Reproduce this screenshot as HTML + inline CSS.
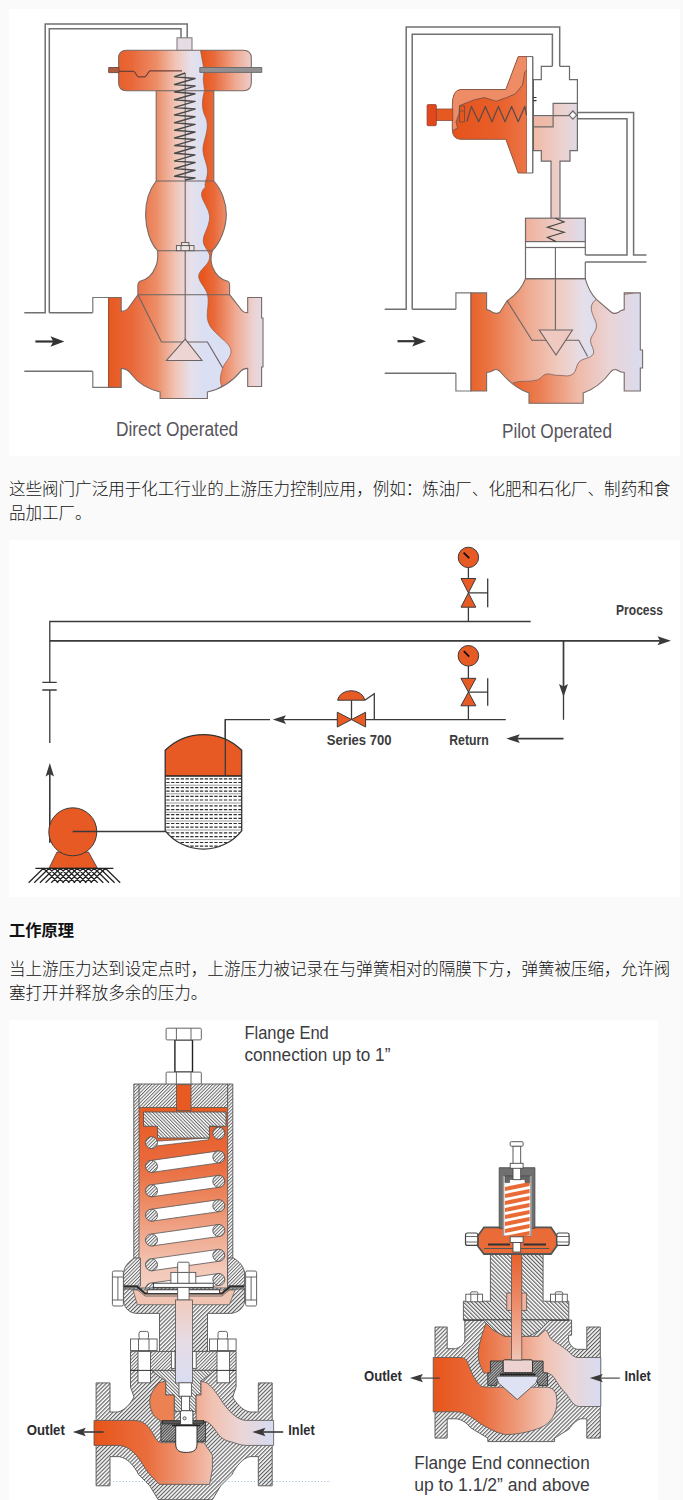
<!DOCTYPE html>
<html lang="zh-CN">
<head>
<meta charset="utf-8">
<title>Series 700</title>
<style>
html,body{margin:0;padding:0;}
body{width:683px;height:1500px;overflow:hidden;background:#fafafa;position:relative;font-family:"Liberation Sans","Noto Sans CJK SC",sans-serif;color:#111;}
.strip{position:absolute;left:680px;top:0;width:3px;height:1500px;background:#f9f9f9;}
.panel{position:absolute;background:#fff;overflow:hidden;}
.panel svg{display:block;position:absolute;left:0;top:0;}
#p1{left:9px;top:9px;width:671px;height:447px;}
#p2{left:9px;top:540px;width:671px;height:357px;}
#p3{left:9px;top:1020px;width:649px;height:480px;}
p,h3{position:absolute;margin:0;left:9px;width:672px;font-size:16.54px;line-height:24px;font-weight:300;white-space:nowrap;}
#t1{top:478px;}
#h{top:918px;font-weight:700;font-size:16.3px;}
#t2{top:958px;}
svg text{font-family:"Liberation Sans",sans-serif;}
</style>
</head>
<body>
<div class="strip"></div>
<div class="panel" id="p1">
<svg width="671" height="447" viewBox="9 9 671 447">
<defs>
<linearGradient id="gL" gradientUnits="userSpaceOnUse" x1="108" y1="0" x2="204" y2="0">
<stop offset="0" stop-color="#e7591f"/><stop offset="0.25" stop-color="#e9683a"/><stop offset="0.5" stop-color="#ec8c66"/><stop offset="0.7" stop-color="#f1c4b4"/><stop offset="0.86" stop-color="#e6e0ea"/><stop offset="1" stop-color="#dadff3"/>
</linearGradient>
<linearGradient id="gR" gradientUnits="userSpaceOnUse" x1="202" y1="0" x2="263" y2="0">
<stop offset="0" stop-color="#e7561b"/><stop offset="0.2" stop-color="#e96a3a"/><stop offset="0.55" stop-color="#efaa92"/><stop offset="0.85" stop-color="#ecd3d3"/><stop offset="1" stop-color="#e3dbe8"/>
</linearGradient>
<clipPath id="cA"><path id="silA" d="M126.6 50.3H243.3Q251.3 50.3 251.3 58.3V82.7Q251.3 90.7 243.3 90.7H213.8V181C222 190 226.3 203 226.3 214.5C226.3 228 220 243 212.4 250.7C210.5 257 210.5 262 212.5 267C216 276 222 280 227.7 281.3Q229.6 282 229.6 285V294.7L240.8 309Q243 312.8 247.7 312.8V297.5H261.6V318H263V367H261.6V386.5H247.7V368.4Q243 368.6 240.8 371.2C232 382 222 389 207.4 392V398.5H160.1V392C148 389 138 383 132 375Q128 368.6 121.2 368.4V387.4H108.6V297.5H121.2V311.4Q125.5 311.2 128 308.5L137.9 294.7V285Q138 282 140 281.3C146 280 152 276 155.5 267C158 262 158 257 157.6 250.7C150 243 145.6 228 145.6 214.5C145.6 203 149 190 156.2 181V90.7H126.6Q118.6 90.7 118.6 82.7V58.3Q118.6 50.3 126.6 50.3Z"/></clipPath>
<linearGradient id="hL" gradientUnits="userSpaceOnUse" x1="471" y1="0" x2="596" y2="0">
<stop offset="0" stop-color="#e8632b"/><stop offset="0.15" stop-color="#ea7544"/><stop offset="0.45" stop-color="#efa98f"/><stop offset="0.7" stop-color="#f0cbbf"/><stop offset="0.9" stop-color="#e4dfea"/><stop offset="1" stop-color="#dcdff1"/>
</linearGradient>
<linearGradient id="hR" gradientUnits="userSpaceOnUse" x1="513" y1="0" x2="641" y2="0">
<stop offset="0" stop-color="#e8622c"/><stop offset="0.22" stop-color="#eb8055"/><stop offset="0.5" stop-color="#efb9a6"/><stop offset="0.75" stop-color="#ead3d6"/><stop offset="1" stop-color="#dadcee"/>
</linearGradient>
<linearGradient id="hP" gradientUnits="userSpaceOnUse" x1="533" y1="0" x2="578" y2="0">
<stop offset="0" stop-color="#f0b8a4"/><stop offset="0.6" stop-color="#ecd0cc"/><stop offset="1" stop-color="#e0dae6"/>
</linearGradient>
<linearGradient id="hB" gradientUnits="userSpaceOnUse" x1="452" y1="0" x2="533" y2="0">
<stop offset="0" stop-color="#e6531c"/><stop offset="0.55" stop-color="#e85e28"/><stop offset="1" stop-color="#ec7a4e"/>
</linearGradient>
<linearGradient id="hQ" gradientUnits="userSpaceOnUse" x1="525" y1="0" x2="586" y2="0">
<stop offset="0" stop-color="#efb09a"/><stop offset="0.6" stop-color="#ecd0cc"/><stop offset="1" stop-color="#dcdcee"/>
</linearGradient>
<clipPath id="cB"><path id="silB" d="M525.5 278.8H585.3C588 288 591 294 596.4 299.3L611 312Q614 314.5 618 312.6Q621 309.8 624.2 309.6V292.9H640.3V350H642.6V368H640.3V391H624.2V372.5Q620 372.3 617 370Q614 368.5 611 371.5C604 381 595 389 583.2 393V403.3H529V393C518 389 508 381 500 371.5Q497 368.5 494 370Q491 372.3 486.6 372.5V391H471.1V292.9H486.6V309.6Q490 309.8 493 312.6Q497 314.5 500 312L507.1 300.8C516 295 522 288 525.5 278.8Z"/></clipPath>
</defs>
<!-- ===== Direct operated ===== -->
<g fill="none" stroke="#707070" stroke-width="1.5">
<!-- sensing tube -->
<path d="M24.3 312.8H45.2V24H187.2V38"/>
<path d="M49.3 312.8V28.8H181V38"/>
<path d="M49.3 312.8H92.8M24.3 371.2H92.8"/>
</g>
<rect x="177" y="37.8" width="15" height="13" fill="#e6dde4" stroke="#777" stroke-width="1"/>
<!-- left flange white part -->
<path d="M92.8 312.8V297.5H108.6V387.4H92.8V371.2" fill="#fff" stroke="#777" stroke-width="1.2"/>
<path d="M126.6 50.3H243.3Q251.3 50.3 251.3 58.3V82.7Q251.3 90.7 243.3 90.7H213.8V181C222 190 226.3 203 226.3 214.5C226.3 228 220 243 212.4 250.7C210.5 257 210.5 262 212.5 267C216 276 222 280 227.7 281.3Q229.6 282 229.6 285V294.7L240.8 309Q243 312.8 247.7 312.8V297.5H261.6V318H263V367H261.6V386.5H247.7V368.4Q243 368.6 240.8 371.2C232 382 222 389 207.4 392V398.5H160.1V392C148 389 138 383 132 375Q128 368.6 121.2 368.4V387.4H108.6V297.5H121.2V311.4Q125.5 311.2 128 308.5L137.9 294.7V285Q138 282 140 281.3C146 280 152 276 155.5 267C158 262 158 257 157.6 250.7C150 243 145.6 228 145.6 214.5C145.6 203 149 190 156.2 181V90.7H126.6Q118.6 90.7 118.6 82.7V58.3Q118.6 50.3 126.6 50.3Z" fill="url(#gL)"/>
<g clip-path="url(#cA)">
<path d="M199.5 45L203.3 66Q204.5 72 203.2 79L204.5 90.7C200.5 105 203 112 206 118C209.5 127 205 137 203.2 146C201.5 155 208 164 207.5 172C207.2 179 204 183 205.4 187C200 192 201 196 204 202C207.5 209 211 214 209 222C207.5 230 202 236 203.5 243C205 249 210.5 252 209.6 258C208.5 266 198 270 198.7 277C199.5 283 206 288 207.5 294.7C209.5 303 206.5 310 207.4 318.4C208.5 326 213 330 217 334C224 341 231.5 345 231 352C230.7 358 224 363 222.5 368.4C221 374 219.5 378 221 384L225 400H270V40Z" fill="url(#gR)" stroke="#9a5a44" stroke-width="0.7"/>
</g>
<path d="M126.6 50.3H243.3Q251.3 50.3 251.3 58.3V82.7Q251.3 90.7 243.3 90.7H213.8V181C222 190 226.3 203 226.3 214.5C226.3 228 220 243 212.4 250.7C210.5 257 210.5 262 212.5 267C216 276 222 280 227.7 281.3Q229.6 282 229.6 285V294.7L240.8 309Q243 312.8 247.7 312.8V297.5H261.6V318H263V367H261.6V386.5H247.7V368.4Q243 368.6 240.8 371.2C232 382 222 389 207.4 392V398.5H160.1V392C148 389 138 383 132 375Q128 368.6 121.2 368.4V387.4H108.6V297.5H121.2V311.4Q125.5 311.2 128 308.5L137.9 294.7V285Q138 282 140 281.3C146 280 152 276 155.5 267C158 262 158 257 157.6 250.7C150 243 145.6 228 145.6 214.5C145.6 203 149 190 156.2 181V90.7H126.6Q118.6 90.7 118.6 82.7V58.3Q118.6 50.3 126.6 50.3Z" fill="none" stroke="#7a6a66" stroke-width="1.1"/>
<!-- left flange divider -->
<path d="M108.6 297.5V387.4" stroke="#b04a20" stroke-width="0.8"/>
<!-- internal lines -->
<g fill="none" stroke="#6b6464" stroke-width="1.1">
<path d="M156.2 90.7H213.8M156.2 181H213.8M157.6 250.7H212.4M137.9 294.7H229.6"/>
<path d="M185.2 73V339.2"/>
<path d="M137.9 294.7L161.5 342H207.4L222.7 367.9"/>
<path d="M185.2 339.2L166.4 360.5H202L185.2 339.2Z" fill="#ecd5d2"/>
</g>
<!-- diaphragm plate -->
<path d="M108.7 67.5H119V72.6H108.7Z" fill="#b05a40" stroke="#6b4a40" stroke-width="0.9"/>
<path d="M119 71.3H133.5C135.5 71.3 136 76.3 138.6 76.8H144.8C147.4 76.3 147.9 71.3 150 70.8H182" fill="none" stroke="#70403a" stroke-width="1.2"/>
<path d="M199.8 67.5H261.8V72.4H199.8Z" fill="#929092" stroke="#666" stroke-width="0.9"/>
<!-- spring -->
<path id="spr" d="M185.2 73.0L174.6 76.8L195.0 78.5L174.6 84.5L195.0 86.1L174.6 92.1L195.0 93.8L174.6 99.8L195.0 101.4L174.6 107.4L195.0 109.1L174.6 115.0L195.0 116.7L174.6 122.7L195.0 124.4L174.6 130.3L195.0 132.0L174.6 138.0L195.0 139.6L174.6 145.6L195.0 147.3L174.6 153.3L195.0 154.9L174.6 160.9L195.0 162.6L174.6 168.5L195.0 170.2L174.6 176.2L195.0 177.9L185.2 180.0" fill="none" stroke="#4a4a4a" stroke-width="1.5" stroke-linejoin="round"/>
<!-- nut -->
<g fill="#f2e6e2" stroke="#555" stroke-width="0.9">
<rect x="176.4" y="245.6" width="17.6" height="5.1"/>
<path d="M181 245.6V250.7M189.4 245.6V250.7" fill="none"/>
<rect x="181.5" y="242.6" width="7.4" height="3"/>
</g>
<!-- arrow -->
<path d="M35.4 341.5H54" stroke="#333" stroke-width="2.2" fill="none"/>
<path d="M64.3 341.5L50.5 336.2L53.3 341.5L50.5 346.8Z" fill="#333"/>
<text x="115.9" y="435.8" font-size="19.4" fill="#58545c" textLength="122.3" lengthAdjust="spacingAndGlyphs">Direct Operated</text>
<!-- ===== Pilot operated ===== -->
<g fill="none" stroke="#707070" stroke-width="1.5">
<!-- left sensing tube -->
<path d="M384.7 309.3H406.2V27H559.7V66.4"/>
<path d="M412.2 309.3V34.2H552.4V66.4"/>
<path d="M412.2 309.3H456M384.7 373.2H456"/>
<!-- right tube -->
<path d="M577.5 112.5H633.6V254.9H646.5"/>
<path d="M577.5 118.8H627V254.9H585.3"/>
<path d="M585.3 262H646.5"/>
</g>
<!-- pilot body -->
<path d="M552.4 66.4H541.3V79.6H533.4V150.7H541.3V161.2H551V218H560V161.2H570V150.7H577.4V79.6H569.5V66.4H559.7" fill="#fff" stroke="none"/>
<path d="M533.4 116.4H553.1V103.3H577.4V150.7H570V161.2H560V218H551V161.2H541.3V150.7H533.4Z" fill="url(#hP)"/>
<rect x="533.4" y="116.4" width="19.7" height="10.4" fill="#eeb4a0" opacity="0.6"/>
<g fill="none" stroke="#6e6a6a" stroke-width="1.2">
<path d="M552.4 66.4H541.3V79.6H533.4V150.7H541.3V161.2H551V218M560 218V161.2H570V150.7H577.4V79.6H569.5V66.4H559.7"/>
<path d="M553.1 116.4V103.3H577.4M525 115.6H569M533.4 126.8H553.1V116"/>
<path d="M572.9 111L576.7 115.1L572.9 119.2L569.1 115.1Z" fill="#fff"/>
</g>
<path d="M530.5 97.5H536.5M530.5 100.6H536.5" stroke="#333" stroke-width="1.2"/>
<!-- bonnet -->
<clipPath id="cBn"><path d="M518.2 56.6H527V173H518.2L505.8 139.3H461Q452.3 139.3 452.3 129V105.6Q452.3 89.5 461 89.5H505.8Z"/></clipPath>
<path d="M518.2 56.6H527V173H518.2L505.8 139.3H461Q452.3 139.3 452.3 129V105.6Q452.3 89.5 461 89.5H505.8Z" fill="url(#hB)"/>
<g clip-path="url(#cBn)">
<path d="M450 132L457.5 128L456 121.7L459 114L459.6 105.6L474.3 99.8L484.5 97.6L496.2 101.2L506.5 97.6L515.3 93.9L522.6 85.1L524.8 72L531.4 66.1L534 50H450Z" fill="#ee8c66" stroke="#7a5248" stroke-width="0.9"/>
</g>
<path d="M518.2 56.6H527V173H518.2L505.8 139.3H461Q452.3 139.3 452.3 129V105.6Q452.3 89.5 461 89.5H505.8Z" fill="none" stroke="#8a5a48" stroke-width="1"/>
<path d="M527 56.6H532.8V173H527Z" fill="#fff" stroke="none"/>
<path d="M527 56.6H532.8M527 173H532.8" stroke="#666" stroke-width="1"/>
<path d="M532.8 56.6V173" stroke="#555" stroke-width="1.2"/>
<!-- knob -->
<rect x="436.3" y="109" width="16.5" height="11.4" fill="#e65a22" stroke="#8a4a38" stroke-width="0.8"/>
<rect x="427.1" y="104.6" width="9.2" height="21.1" rx="1" fill="#e2481c" stroke="#8a4030" stroke-width="0.8"/>
<path d="M459.5 106H464.5V122H459.5ZM459.5 111H464.5" fill="none" stroke="#6b5048" stroke-width="0.9"/>
<path d="M467 121.7L471.4 106.4L478.7 121.7L485.3 106.4L491.9 121.7L498.4 106.4L505 121.7L511.6 106.4L518.2 121.7L524.8 106.4L526.5 115" fill="none" stroke="#5a4a48" stroke-width="1.2" stroke-linejoin="round"/>
<!-- piston -->
<rect x="525.5" y="218.2" width="59.8" height="23.4" fill="url(#hQ)" stroke="#6e6a6a" stroke-width="1.2"/>
<rect x="525.5" y="241.6" width="59.8" height="5.9" fill="#fff" stroke="#6e6a6a" stroke-width="1.2"/>
<path d="M525.5 247.5V279M585.3 247.5V255M585.3 262V279" stroke="#6e6a6a" stroke-width="1.2" fill="none"/>
<path d="M555.5 218.2L564 222L547.5 227.3L564 232.3L547.5 237.3L556 241.6" fill="none" stroke="#444" stroke-width="1.2"/>
<!-- body -->
<path d="M455.9 309.3V292.9H471.1V391H455.9V373.2" fill="#fff" stroke="#777" stroke-width="1.2"/>
<path d="M525.5 278.8H585.3C588 288 591 294 596.4 299.3L611 312Q614 314.5 618 312.6Q621 309.8 624.2 309.6V292.9H640.3V350H642.6V368H640.3V391H624.2V372.5Q620 372.3 617 370Q614 368.5 611 371.5C604 381 595 389 583.2 393V403.3H529V393C518 389 508 381 500 371.5Q497 368.5 494 370Q491 372.3 486.6 372.5V391H471.1V292.9H486.6V309.6Q490 309.8 493 312.6Q497 314.5 500 312L507.1 300.8C516 295 522 288 525.5 278.8Z" fill="url(#hL)"/>
<g clip-path="url(#cB)">
<path d="M596.4 299.3C590 304 591 309 592 312.5C593.5 318 597 322 596.4 327C595.5 333 590 336 590.6 341.8C591 346 594.5 349 593.5 353.5C591 359 582 358 578.8 362.3C576 366 576.5 371 573 374C568 377.5 563 375 558.3 375.4C553 375.5 551 373.5 546.6 374C543 374.5 541 378.5 537.8 379.8C530 382.5 521 380 513 382.8L520 410H650V290Z" fill="url(#hR)" stroke="#8a6a62" stroke-width="0.9"/>
</g>
<path d="M525.5 278.8H585.3C588 288 591 294 596.4 299.3L611 312Q614 314.5 618 312.6Q621 309.8 624.2 309.6V292.9H640.3V350H642.6V368H640.3V391H624.2V372.5Q620 372.3 617 370Q614 368.5 611 371.5C604 381 595 389 583.2 393V403.3H529V393C518 389 508 381 500 371.5Q497 368.5 494 370Q491 372.3 486.6 372.5V391H471.1V292.9H486.6V309.6Q490 309.8 493 312.6Q497 314.5 500 312L507.1 300.8C516 295 522 288 525.5 278.8Z" fill="none" stroke="#7a6a66" stroke-width="1.1"/>
<path d="M471.1 292.9V391" stroke="#b05a38" stroke-width="0.8"/>
<g fill="none" stroke="#6b6464" stroke-width="1.1">
<path d="M525.5 278.8H585.3"/>
<path d="M555.4 247.5V330"/>
<path d="M507.1 300.8L532 340.3H578.8L587.6 356.4"/>
<path d="M539.3 330H572.4L556 355Z" fill="#efc9c0"/>
</g>
<path d="M397.5 341.2H416" stroke="#333" stroke-width="2.2" fill="none"/>
<path d="M426 341.2L412.2 335.9L415 341.2L412.2 346.5Z" fill="#333"/>
<text x="502" y="438.3" font-size="19.4" fill="#58545c" textLength="110" lengthAdjust="spacingAndGlyphs">Pilot Operated</text>
</svg>
</div>
<p id="t1">这些阀门广泛用于化工行业的上游压力控制应用，例如：炼油厂、化肥和石化厂、制药和食<br>品加工厂。</p>
<div class="panel" id="p2">
<svg width="671" height="357" viewBox="9 540 671 357">
<defs>
</defs>
<g fill="none" stroke="#3a3a3a" stroke-width="1.3" stroke-linecap="butt">
<!-- process lines -->
<path d="M49.8 743V690M49.8 682.3V621.5H530.7"/>
<path d="M42.3 682.3H56.7M42.3 690H56.7"/>
<path d="M49.8 640.8H660" stroke-width="1.7"/>
<path d="M563.5 640.8V688" stroke-width="1.7"/><path d="M563.5 694V719.8"/>
<path d="M563.5 738.6H516" stroke-width="1.7"/>
<path d="M505.8 719.6H365.6M337.3 719.6H283M270 719.6H225.3V776"/>
<path d="M49.8 842.7V772" stroke-width="1.6"/>
<!-- gauge stems -->
<path d="M468.4 567.5V578.5M468.4 607.2V621.5M468.4 666V678.3M468.4 705.8V719.6"/>
<path d="M468.4 592.9H487.7M487.7 578.5V607.2M468.4 692.1H487.7M487.7 678.3V705.8"/>
<path d="M351.5 700.2V719.6M364.7 700.2L374.3 693.8V719.6"/>
</g>
<!-- arrowheads -->
<g fill="#3a3a3a" stroke="none">
<path d="M671 640.8L657.5 636.3L660 640.8L657.5 645.3Z"/>
<path d="M563.5 697L559 684L563.5 686.5L568 684Z"/>
<path d="M506.3 738.6L519.8 734.2L517.3 738.6L519.8 743Z"/>
<path d="M272.8 719.6L286 715.3L283.5 719.6L286 723.9Z"/>
<path d="M49.8 763L45.6 776.5L49.8 774L54 776.5Z"/>
</g>
<!-- orange items -->
<g fill="#e85a24" stroke="#3a3a3a" stroke-width="1">
<circle cx="468.4" cy="557.4" r="10.2"/>
<circle cx="468.4" cy="655.8" r="10.3"/>
<path d="M461 578.5H475.8L468.4 592.9Z"/>
<path d="M461 607.2H475.8L468.4 592.9Z"/>
<path d="M460.9 678.3H475.9L468.4 692.1Z"/>
<path d="M460.9 705.8H475.9L468.4 692.1Z"/>
<path d="M337.3 712.2V727L351.5 719.6Z"/>
<path d="M365.6 712.2V727L351.5 719.6Z"/>
<path d="M337.6 700.2A13.7 10.8 0 0 1 364.8 700.2Z"/>
<!-- pump -->
<path d="M57 852L49 868.3H97.5L88.5 852Z" stroke-width="0.8"/>
<circle cx="72.8" cy="831.8" r="24" stroke-width="1"/>
</g>
<path d="M72.7 831.5H165.8" stroke="#3a3a3a" stroke-width="1.3"/>
<g stroke="#111" stroke-width="1.8" stroke-linecap="butt">
<path d="M469.2 558.2L463.6 552.6"/>
<path d="M469.2 656.6L463.8 651.2"/>
</g>
<!-- ground -->
<path d="M35.4 868.3H113.4" stroke="#222" stroke-width="1.3" fill="none"/>
<path d="M43.4 868.3L28.6 882.7M43.4 868.3L58.2 882.7M49.0 868.3L34.2 882.7M49.0 868.3L63.8 882.7M54.7 868.3L39.9 882.7M54.7 868.3L69.5 882.7M60.3 868.3L45.5 882.7M60.3 868.3L75.1 882.7M66.0 868.3L51.2 882.7M66.0 868.3L80.8 882.7M71.6 868.3L56.8 882.7M71.6 868.3L86.4 882.7M77.2 868.3L62.4 882.7M77.2 868.3L92.0 882.7M82.9 868.3L68.1 882.7M82.9 868.3L97.7 882.7M88.5 868.3L73.7 882.7M88.5 868.3L103.3 882.7M94.2 868.3L79.4 882.7M94.2 868.3L109.0 882.7M99.8 868.3L85.0 882.7M99.8 868.3L114.6 882.7M105.4 868.3L90.6 882.7M105.4 868.3L120.2 882.7" stroke="#222" stroke-width="1.25" fill="none"/>
<!-- tank -->
<path d="M165.2 750.3A54.4 54.4 0 0 1 241.7 750.3V830.8A49.1 49.1 0 0 1 165.2 830.8Z" fill="#fff" stroke="none"/>
<path d="M165.2 776V750.3A54.4 54.4 0 0 1 241.7 750.3V776Z" fill="#e85a24"/>
<clipPath id="ctk"><path d="M165.2 776H241.7V830.8A49.1 49.1 0 0 1 165.2 830.8Z"/></clipPath>
<g clip-path="url(#ctk)" fill="none">
<path d="M166.3 778.8H241.5M166.3 782.5H241.5M166.3 787.6H241.5M166.3 791.2H241.5M166.3 796.4H241.5M166.3 800.0H241.5M166.3 805.9H241.5M166.3 809.6H241.5M166.3 814.7H241.5M166.3 818.3H241.5M166.3 823.5H241.5M166.3 827.1H241.5M166.3 832.9H241.5M166.3 836.6H241.5M166.3 842.5H241.5M166.3 846.2H241.5" stroke="#2e2e2e" stroke-width="1.2" stroke-dasharray="3.3 1.5"/>
<path d="M165.5 785.2H241.5M165.5 793.8H241.5M165.5 803.0H241.5M165.5 812.3H241.5M165.5 821.0H241.5M165.5 830.0H241.5M165.5 839.6H241.5" stroke="#555" stroke-width="0.6"/>
</g>
<path d="M165.2 750.3A54.4 54.4 0 0 1 241.7 750.3V830.8A49.1 49.1 0 0 1 165.2 830.8Z" fill="none" stroke="#333" stroke-width="1.3"/>
<path d="M165.2 776H241.7" stroke="#222" stroke-width="1.6"/>
<path d="M225.3 719.6V776" stroke="#3a3a3a" stroke-width="1.3"/>
<!-- labels -->
<g font-weight="700" fill="#3c3c3c" font-size="14.6">
<text x="616" y="615" textLength="47" lengthAdjust="spacingAndGlyphs" font-size="14">Process</text>
<text x="326.8" y="744.9" textLength="64.8" lengthAdjust="spacingAndGlyphs">Series 700</text>
<text x="449.2" y="744.9" textLength="39.6" lengthAdjust="spacingAndGlyphs">Return</text>
</g>
</svg>
</div>
<h3 id="h">工作原理</h3>
<p id="t2">当上游压力达到设定点时，上游压力被记录在与弹簧相对的隔膜下方，弹簧被压缩，允许阀<br>塞打开并释放多余的压力。</p>
<div class="panel" id="p3">
<svg width="649" height="480" viewBox="9 1020 649 480">
<defs>
<pattern id="h1" width="2.8" height="2.8" patternUnits="userSpaceOnUse" patternTransform="rotate(45)"><rect width="2.8" height="2.8" fill="#fff"/><path d="M0.6 0V2.8" stroke="#545454" stroke-width="1.1"/></pattern>
<pattern id="h2" width="2.8" height="2.8" patternUnits="userSpaceOnUse" patternTransform="rotate(-45)"><rect width="2.8" height="2.8" fill="#fff"/><path d="M0.6 0V2.8" stroke="#545454" stroke-width="1.1"/></pattern>
<pattern id="h3" width="2" height="2" patternUnits="userSpaceOnUse" patternTransform="rotate(45)"><rect width="2" height="2" fill="#bbb"/><path d="M0.5 0V2" stroke="#444" stroke-width="1"/></pattern>
<pattern id="h4" width="2.4" height="2.4" patternUnits="userSpaceOnUse" patternTransform="rotate(45)"><rect width="2.4" height="2.4" fill="#fff"/><path d="M0.5 0V2.4" stroke="#606060" stroke-width="0.95"/></pattern>
<pattern id="h5" width="2.4" height="2.4" patternUnits="userSpaceOnUse" patternTransform="rotate(-45)"><rect width="2.4" height="2.4" fill="#fff"/><path d="M0.5 0V2.4" stroke="#606060" stroke-width="0.95"/></pattern>
<linearGradient id="vS" gradientUnits="userSpaceOnUse" x1="0" y1="1110" x2="0" y2="1300">
<stop offset="0" stop-color="#e85c24"/><stop offset="0.26" stop-color="#e9683a"/><stop offset="0.47" stop-color="#ec8860"/><stop offset="0.68" stop-color="#f0ad94"/><stop offset="0.84" stop-color="#f3c8b8"/><stop offset="1" stop-color="#f4d4c8"/>
</linearGradient>
<linearGradient id="vB" gradientUnits="userSpaceOnUse" x1="0" y1="1300" x2="0" y2="1385">
<stop offset="0" stop-color="#f0cabd"/><stop offset="0.5" stop-color="#e6dce6"/><stop offset="1" stop-color="#d9ddf2"/>
</linearGradient>
<linearGradient id="bA" gradientUnits="userSpaceOnUse" x1="94" y1="0" x2="274" y2="0">
<stop offset="0" stop-color="#e7541a"/><stop offset="0.3" stop-color="#ea6e3e"/><stop offset="0.5" stop-color="#ee9a7a"/><stop offset="0.66" stop-color="#f1c2b2"/><stop offset="0.82" stop-color="#ead6d8"/><stop offset="1" stop-color="#d6dcf2"/>
</linearGradient>
<linearGradient id="bB" gradientUnits="userSpaceOnUse" x1="431" y1="0" x2="603" y2="0">
<stop offset="0" stop-color="#e7541a"/><stop offset="0.3" stop-color="#ea6e3e"/><stop offset="0.5" stop-color="#ee9a7a"/><stop offset="0.66" stop-color="#f1c2b2"/><stop offset="0.82" stop-color="#ead6d8"/><stop offset="1" stop-color="#d6dcf2"/>
</linearGradient>
<linearGradient id="vT" gradientUnits="userSpaceOnUse" x1="0" y1="1254" x2="0" y2="1360">
<stop offset="0" stop-color="#e8602a"/><stop offset="0.5" stop-color="#ee9070"/><stop offset="1" stop-color="#f2c4b4"/>
</linearGradient>
</defs>
<g fill="#fff" stroke="#555" stroke-width="0.9">
<rect x="174.9" y="1039.9" width="17.6" height="32.2" stroke="#222" stroke-width="1.4"/>
<rect x="166.1" y="1028.2" width="35.2" height="11.7" rx="1"/>
<path d="M176.4 1028.2V1039.9M191 1028.2V1039.9" fill="none"/>
<rect x="166.1" y="1072.1" width="35.2" height="12.6" rx="1"/>
<path d="M176.4 1072.1V1084.7M191 1072.1V1084.7" fill="none"/>
</g>
<path d="M133.8 1084H232.8V1262H133.8Z" fill="url(#h4)" stroke="#555" stroke-width="0.9"/>
<path d="M139 1084V1108M227.6 1084V1108" fill="none" stroke="#555" stroke-width="0.9"/>
<path d="M139 1107.5H227.6V1300H139Z" fill="url(#vS)" stroke="#555" stroke-width="0.8"/>
<rect x="176.4" y="1084.7" width="14.6" height="26" fill="#e85a22" stroke="#555" stroke-width="0.8"/>
<path d="M156 1141.2L208.5 1138V1139.8L156 1146Z" fill="#fff" stroke="#555" stroke-width="0.7"/>
<path d="M151.5 1160.4L218.8 1150.9L218.8 1162.9L151.5 1172.4Z" fill="#fff" stroke="#555" stroke-width="0.8"/>
<path d="M151.5 1184.8L218.8 1175.3L218.8 1187.3L151.5 1196.8Z" fill="#fff" stroke="#555" stroke-width="0.8"/>
<path d="M151.5 1209.2L218.8 1199.7L218.8 1211.7L151.5 1221.2Z" fill="#fff" stroke="#555" stroke-width="0.8"/>
<path d="M151.5 1234.0L218.8 1224.5L218.8 1236.5L151.5 1246.0Z" fill="#fff" stroke="#555" stroke-width="0.8"/>
<path d="M151.5 1258.8L218.8 1249.3L218.8 1261.3L151.5 1270.8Z" fill="#fff" stroke="#555" stroke-width="0.8"/>
<path d="M151.5 1283.0L218.8 1273.5L218.8 1285.5L151.5 1295.0Z" fill="#fff" stroke="#555" stroke-width="0.8"/>
<path d="M143.5 1112H226V1126.3H209.4V1138H157.5V1126.3H143.5Z" fill="url(#h5)" stroke="#555" stroke-width="0.9"/>
<path d="M209.4 1126.3H216.4V1136" fill="none" stroke="#555" stroke-width="0.9"/>
<circle cx="151.5" cy="1142.7" r="6.0" fill="url(#h4)" stroke="#555" stroke-width="0.9"/>
<circle cx="218.8" cy="1133.2" r="6.0" fill="url(#h4)" stroke="#555" stroke-width="0.9"/>
<circle cx="151.5" cy="1166.4" r="6.0" fill="url(#h4)" stroke="#555" stroke-width="0.9"/>
<circle cx="218.8" cy="1156.9" r="6.0" fill="url(#h4)" stroke="#555" stroke-width="0.9"/>
<circle cx="151.5" cy="1190.8" r="6.0" fill="url(#h4)" stroke="#555" stroke-width="0.9"/>
<circle cx="218.8" cy="1181.3" r="6.0" fill="url(#h4)" stroke="#555" stroke-width="0.9"/>
<circle cx="151.5" cy="1215.2" r="6.0" fill="url(#h4)" stroke="#555" stroke-width="0.9"/>
<circle cx="218.8" cy="1205.7" r="6.0" fill="url(#h4)" stroke="#555" stroke-width="0.9"/>
<circle cx="151.5" cy="1240.0" r="6.0" fill="url(#h4)" stroke="#555" stroke-width="0.9"/>
<circle cx="218.8" cy="1230.5" r="6.0" fill="url(#h4)" stroke="#555" stroke-width="0.9"/>
<circle cx="151.5" cy="1264.8" r="6.0" fill="url(#h4)" stroke="#555" stroke-width="0.9"/>
<circle cx="218.8" cy="1255.3" r="6.0" fill="url(#h4)" stroke="#555" stroke-width="0.9"/>
<circle cx="151.5" cy="1289.0" r="6.0" fill="url(#h4)" stroke="#555" stroke-width="0.9"/>
<circle cx="218.8" cy="1279.5" r="6.0" fill="url(#h4)" stroke="#555" stroke-width="0.9"/>
<path d="M134.5 1258C128 1262 124 1267 123.6 1273V1286H140.4V1258Z" fill="url(#h4)" stroke="#555" stroke-width="0.9"/>
<path d="M233.5 1258C240 1262 244 1267 244.6 1273V1286H227.6V1258Z" fill="url(#h4)" stroke="#555" stroke-width="0.9"/>
<path d="M123.6 1288H244.6V1302C243 1309 237 1313.4 229.4 1313.4H207.5V1352H159.5V1313.4H137.3C130 1313.4 125 1309 123.6 1302Z" fill="url(#h1)" stroke="#555" stroke-width="0.9"/>
<path d="M133 1290H235L229.4 1304.7H137.3Z" fill="#f1c3b3" stroke="#555" stroke-width="0.7"/>
<rect x="112.4" y="1271" width="11" height="35" rx="1.5" fill="#fff" stroke="#555" stroke-width="0.9"/>
<path d="M112.4 1277H123.4M112.4 1300H123.4M117.9 1277V1300" fill="none" stroke="#555" stroke-width="0.9"/>
<rect x="245.6" y="1271" width="11" height="35" rx="1.5" fill="#fff" stroke="#555" stroke-width="0.9"/>
<path d="M245.6 1277H256.6M245.6 1300H256.6M251.1 1277V1300" fill="none" stroke="#555" stroke-width="0.9"/>
<path d="M123.6 1286.5H137L145 1293.5H222L230 1286.5H244.6" fill="none" stroke="#2a2a2a" stroke-width="2"/>
<path d="M124 1289L137 1289.5L145 1296H222L230 1289.5L244.6 1289" fill="none" stroke="#555" stroke-width="0.8"/>
<rect x="147.3" y="1289.8" width="72.2" height="3.7" fill="#fff" stroke="#333" stroke-width="0.9"/>
<rect x="153.5" y="1283.2" width="59.7" height="4.2" fill="#fff" stroke="#333" stroke-width="0.9"/>
<rect x="177.7" y="1287.4" width="11.4" height="12.6" fill="#fff" stroke="#555" stroke-width="0.9"/>
<rect x="170.9" y="1272.4" width="24.9" height="10.8" fill="#fff" stroke="#555" stroke-width="0.9"/>
<path d="M177.7 1272.4V1283.2M189.1 1272.4V1283.2" fill="none" stroke="#555" stroke-width="0.9"/>
<rect x="177.7" y="1262.2" width="11.4" height="10.2" rx="1" fill="#fff" stroke="#555" stroke-width="0.9"/>
<path d="M96.1 1382.9H110V1412H117.8C125 1410.5 131 1403 134 1397L130.5 1387V1370.4H236.1V1387L232.7 1397C236 1403 242 1410.5 250 1412H258.3V1382.9H272.2V1485.8H258.3V1456.6H250C243 1458 236 1466 231.9 1474.6L220.7 1485.8L212.4 1499.7H158.2L149.8 1485.8L138.7 1474.6C134 1466 128 1458 119 1456.6H110V1485.8H96.1Z" fill="url(#h1)" stroke="#555" stroke-width="0.9"/>
<path d="M130.5 1351.4H236.1V1370.4H130.5Z" fill="url(#h4)" stroke="#555" stroke-width="0.9"/>
<path d="M151.4 1370.4H215.2L206.5 1377L201 1381V1395H196.1V1411.4H174.2V1395H165.7V1381L160 1377Z" fill="url(#h5)" stroke="#555" stroke-width="0.9"/>
<rect x="175.5" y="1300" width="17" height="83" fill="url(#vB)" stroke="#555" stroke-width="0.8"/>
<path d="M94 1420.4H134C145 1420.4 150 1428 154 1435.7C157 1441 159 1442.7 162.3 1442.7H204L212.4 1455.2V1469L209.6 1484.4H159.5L156.8 1481.6C152 1477 148 1473 145.6 1469C138 1456 130 1445.4 117.8 1445.4H94Z" fill="url(#bA)" stroke="#555" stroke-width="0.8"/>
<path d="M159 1382.8L165.7 1381V1395H174.2V1421.8H162.3C156 1418 153 1415 152.6 1413.4C150 1408 149.5 1403 149.8 1399.5C151 1392 155 1387 159 1382.8Z" fill="#ec8254" stroke="#555" stroke-width="0.8"/>
<path d="M273.6 1420.4H245.8C236 1420 226 1408 220.7 1399.5C216 1392 211 1386 206.8 1382.9L201 1381V1395H196.1V1421.8H206.8C211 1424 213 1427 215.2 1430C219 1436 223 1440 229 1441.3C236 1443 240 1445.4 245.8 1445.4H273.6Z" fill="url(#bA)" stroke="#555" stroke-width="0.8"/>
<rect x="160.9" y="1421.8" width="44.5" height="19.5" fill="url(#h3)" stroke="#333" stroke-width="0.9"/>
<rect x="162.5" y="1420.4" width="41.3" height="3.6" fill="#555" stroke="#222" stroke-width="0.6"/>
<path d="M175.7 1425V1444C175.7 1451 180 1452.4 186.3 1452.4C192.5 1452.4 197 1451 197 1444V1425Z" fill="#fff" stroke="#333" stroke-width="1"/>
<path d="M172 1425.5H200.5" stroke="#222" stroke-width="1.6"/>
<rect x="179" y="1382.8" width="12.4" height="13.5" fill="#fff" stroke="#555" stroke-width="0.9"/>
<rect x="181.5" y="1396.3" width="8" height="15" fill="#fff" stroke="#555" stroke-width="0.9"/>
<rect x="180.4" y="1410.7" width="12.5" height="14" rx="1.5" fill="#fff" stroke="#333" stroke-width="0.9"/>
<circle cx="184.6" cy="1418.3" r="1.6" fill="#ddd" stroke="#333" stroke-width="0.7"/>
<rect x="171.4" y="1351.4" width="3.6" height="17" fill="#fff" stroke="#555" stroke-width="0.9"/>
<rect x="192.6" y="1351.4" width="3.6" height="17" fill="#fff" stroke="#555" stroke-width="0.9"/>
<rect x="138.0" y="1351.4" width="12.5" height="31.4" fill="#fff" stroke="#555" stroke-width="0.9"/>
<rect x="139.0" y="1331.4" width="9.5" height="8" rx="2" fill="#fff" stroke="#555" stroke-width="0.9"/>
<rect x="130.5" y="1339" width="26.6" height="11.5" fill="#fff" stroke="#555" stroke-width="0.9"/>
<path d="M138.5 1339V1350.5M149.0 1339V1350.5" fill="none" stroke="#555" stroke-width="0.9"/>
<rect x="217.0" y="1351.4" width="12.5" height="31.4" fill="#fff" stroke="#555" stroke-width="0.9"/>
<rect x="218.0" y="1331.4" width="9.5" height="8" rx="2" fill="#fff" stroke="#555" stroke-width="0.9"/>
<rect x="209.5" y="1339" width="26.6" height="11.5" fill="#fff" stroke="#555" stroke-width="0.9"/>
<path d="M217.5 1339V1350.5M228.0 1339V1350.5" fill="none" stroke="#555" stroke-width="0.9"/>
<path d="M130.5 1370.4H151.4M215.2 1370.4H236.1" stroke="#333" stroke-width="1"/>
<path d="M110 1481.5H331" stroke="#9ab4d0" stroke-width="1" stroke-dasharray="1 2.2" fill="none"/>
<path d="M72.8 1432L85.8 1427.8L83.5 1432L85.8 1436.2Z" fill="#3a3a3a"/><path d="M83.5 1432H103.6" stroke="#3a3a3a" stroke-width="1.6"/>
<path d="M252.4 1432L265.4 1427.8L263.1 1432L265.4 1436.2Z" fill="#3a3a3a"/><path d="M263.1 1432H283.2" stroke="#3a3a3a" stroke-width="1.6"/>
<g font-weight="700" fill="#2c2c30" font-size="14.2">
<text x="26.7" y="1434.9" textLength="38.1" lengthAdjust="spacingAndGlyphs">Outlet</text>
<text x="288.3" y="1434.9" textLength="26.4" lengthAdjust="spacingAndGlyphs">Inlet</text>
</g>
<g fill="#3c3c40" font-size="18.7">
<text x="244.4" y="1038.9" textLength="84.4" lengthAdjust="spacingAndGlyphs">Flange End</text>
<text x="244.4" y="1061.4" textLength="146" lengthAdjust="spacingAndGlyphs">connection up to 1”</text>
</g>
<path d="M435 1327H447.2V1348.7H455.4C460 1347.5 464.8 1344 464.8 1340V1320H571.6V1335.2H568.6V1341C570 1345 573 1348.5 576.8 1349.3H586.8V1327H600.3V1438.1H586.8V1418.8H581C576 1420 572 1425 568.7 1429.3L554.6 1438.1V1441.6H487.8V1438.1L470.3 1427.6C467 1423 462 1419.5 456.2 1418.8H447.2V1438.1H435Z" fill="url(#h1)" stroke="#555" stroke-width="0.9"/>
<path d="M490.4 1254.4H543.1V1301.2H568.8V1320H463.4V1301.2H490.4Z" fill="url(#h2)" stroke="#555" stroke-width="0.9"/>
<path d="M463.4 1320H568.8" stroke="#333" stroke-width="1"/>
<path d="M483 1320H550L540 1330L529 1336.4H504.4L493 1330Z" fill="url(#h2)" stroke="#555" stroke-width="0.9"/>
<path d="M433.2 1357.5H461.3C466 1358 468 1362 468.3 1364.5C469.5 1368 470.5 1370 471.8 1372.7C473 1376 474.5 1378 476.5 1380.9C478 1384 480 1386 482.4 1386.7L487.8 1387.2H547.6C553 1388 556 1392 556.4 1396C557.5 1402 557 1408 554.6 1413.5C552 1420 547 1425 540.5 1427.6C530 1432 517 1434.6 505.4 1434.6C496 1433 488 1428 480.8 1424C474 1419 466 1412 456.2 1411.8H433.2Z" fill="url(#bB)" stroke="#555" stroke-width="0.8"/>
<path d="M486 1323C483 1332 480 1340 478.5 1350C477.5 1358 479.5 1366 484 1373.1H547.6C551 1374 553 1376 554.6 1378.4C558 1384 561 1389 565.1 1392.4C569 1397 573 1406.5 579.2 1406.5H600.8V1357.5H576.8C572 1356 570 1353 568.6 1351.6C565 1348.5 562 1346.5 559.3 1344.6C556 1342.5 553 1340.5 551.1 1338.7C549 1336 548 1333.5 547.6 1331.7L545.2 1330L538.2 1336.4H504.4L493 1330Z" fill="url(#bB)" stroke="#555" stroke-width="0.8"/>
<path d="M490.4 1361H503.2V1372.7H532.5V1361H543.1V1372.7L547.6 1373V1385.4H538.4L536 1378H498.5L496.2 1385.4H487.8V1373L490.4 1372.7Z" fill="url(#h3)" stroke="#333" stroke-width="0.9"/>
<path d="M496.2 1376.2H538.4L536 1383L517.3 1399.6L498.5 1383Z" fill="#dfe2f2" stroke="#555" stroke-width="0.9"/>
<rect x="503.2" y="1359.8" width="29.3" height="12.9" rx="1.5" fill="#ecd2d0" stroke="#333" stroke-width="1"/>
<path d="M500 1374.5H535.5" stroke="#222" stroke-width="2"/>
<rect x="506.8" y="1293" width="19.9" height="17.6" fill="#f0b29c" stroke="#555" stroke-width="0.8"/>
<rect x="511.6" y="1252" width="10.2" height="108" fill="url(#vT)" stroke="#555" stroke-width="0.8"/>
<rect x="470.5" y="1291.8" width="7.5" height="4" rx="1.5" fill="#fff" stroke="#555" stroke-width="0.9"/>
<rect x="465.8" y="1294.2" width="16.8" height="7.6" fill="#fff" stroke="#555" stroke-width="0.9"/>
<path d="M470.8 1294.2V1301.8M477.6 1294.2V1301.8" fill="none" stroke="#555" stroke-width="0.9"/>
<rect x="555.2" y="1291.8" width="7.5" height="4" rx="1.5" fill="#fff" stroke="#555" stroke-width="0.9"/>
<rect x="550.5" y="1294.2" width="16.8" height="7.6" fill="#fff" stroke="#555" stroke-width="0.9"/>
<path d="M555.5 1294.2V1301.8M562.3 1294.2V1301.8" fill="none" stroke="#555" stroke-width="0.9"/>
<path d="M499.2 1227.3H484L477.8 1236V1246L484 1254H551L556.8 1246V1236L551 1227.3H534.9Z" fill="#e96b38" stroke="#555" stroke-width="1.8"/>
<path d="M499.2 1167.7H534.9V1228.3H499.2Z" fill="#707070" stroke="#444" stroke-width="0.8"/>
<path d="M503.5 1176H531.1V1236H503.5Z" fill="#fff" stroke="#555" stroke-width="0.6"/>
<path d="M504.9 1187.0L529.6 1182.0V1186.1L504.9 1191.1Z" fill="#ea6a35"/>
<path d="M504.9 1194.0L529.6 1189.0V1193.1L504.9 1198.1Z" fill="#ea6a35"/>
<path d="M504.9 1201.0L529.6 1196.0V1200.1L504.9 1205.1Z" fill="#ea6a35"/>
<path d="M504.9 1208.0L529.6 1203.0V1207.1L504.9 1212.1Z" fill="#ea6a35"/>
<path d="M504.9 1215.0L529.6 1210.0V1214.1L504.9 1219.1Z" fill="#ea6a35"/>
<path d="M504.9 1222.0L529.6 1217.0V1221.1L504.9 1226.1Z" fill="#ea6a35"/>
<path d="M504.9 1229.0L529.6 1224.0V1228.1L504.9 1233.1Z" fill="#ea6a35"/>
<path d="M504.9 1236.0L529.6 1231.0V1235.1L504.9 1240.1Z" fill="#ea6a35"/>
<path d="M503.5 1176V1236M531.1 1176V1236" stroke="#999" stroke-width="1.6"/>
<path d="M505 1176H529.6V1182.6H525V1179.5H509.6V1182.6H505Z" fill="#666" stroke="#444" stroke-width="0.6"/>
<path d="M488 1244.5H510M523.5 1244.5H546" stroke="#333" stroke-width="2"/>
<path d="M484 1248.5H549" stroke="#555" stroke-width="1"/>
<rect x="510.2" y="1236.8" width="12.9" height="5.7" fill="#fff" stroke="#4a4a4a" stroke-width="0.9"/>
<rect x="513" y="1242.5" width="7.7" height="9.5" fill="#fff" stroke="#4a4a4a" stroke-width="0.9"/>
<rect x="465.5" y="1233" width="12.3" height="12.4" rx="2" fill="#fff" stroke="#444" stroke-width="1.2"/>
<path d="M465.5 1236.5H477.8M465.5 1242H477.8" stroke="#444" stroke-width="0.8"/>
<rect x="556.8" y="1233" width="12.3" height="12.4" rx="2" fill="#fff" stroke="#444" stroke-width="1.2"/>
<path d="M556.8 1236.5H569.1M556.8 1242H569.1" stroke="#444" stroke-width="0.8"/>
<rect x="513" y="1146" width="7.7" height="33.7" fill="#fff" stroke="#4a4a4a" stroke-width="0.9"/>
<rect x="510.2" y="1141.7" width="12.9" height="4.5" rx="1" fill="#fff" stroke="#4a4a4a" stroke-width="0.9"/>
<rect x="510.2" y="1163.3" width="12.9" height="5" fill="#fff" stroke="#4a4a4a" stroke-width="0.9"/>
<path d="M409.9 1378.1L422.9 1373.9L420.6 1378.1L422.9 1382.3Z" fill="#3a3a3a"/><path d="M420.6 1378.1H439.9" stroke="#3a3a3a" stroke-width="1.1"/>
<path d="M589.8 1378.1L602.8 1373.9L600.5 1378.1L602.8 1382.3Z" fill="#3a3a3a"/><path d="M600.5 1378.1H619.8" stroke="#3a3a3a" stroke-width="1.1"/>
<g font-weight="700" fill="#2c2c30" font-size="14">
<text x="364.1" y="1381.1" textLength="37.8" lengthAdjust="spacingAndGlyphs">Outlet</text>
<text x="624.5" y="1381.1" textLength="26.3" lengthAdjust="spacingAndGlyphs">Inlet</text>
</g>
<g fill="#3c3c40" font-size="18.7">
<text x="414.2" y="1468.7" textLength="175.5" lengthAdjust="spacingAndGlyphs">Flange End connection</text>
<text x="414.2" y="1491.2" textLength="175.5" lengthAdjust="spacingAndGlyphs">up to 1.1/2” and above</text>
</g>
</svg>
</div>
</body>
</html>
